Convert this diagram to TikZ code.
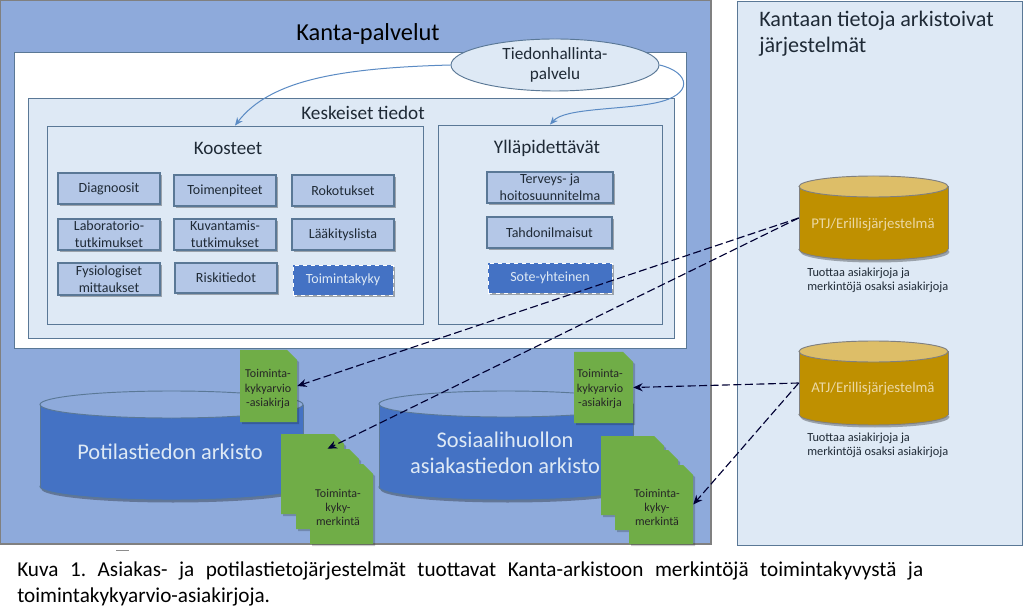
\documentclass[tikz,border=0pt]{standalone}
\usepackage{fontspec}
\setmainfont{Carlito}
\usetikzlibrary{shapes.geometric,shadows,arrows.meta}
\definecolor{panel}{HTML}{8EAADB}
\definecolor{light}{HTML}{DEE9F5}
\definecolor{boxblue}{HTML}{B4C7E7}
\definecolor{strong}{HTML}{4472C4}
\definecolor{edge}{HTML}{5A7896}
\definecolor{green}{HTML}{70AD47}
\definecolor{gold}{HTML}{BF9000}
\definecolor{goldtop}{HTML}{DDBE68}
\definecolor{txt}{HTML}{1F2A36}
\definecolor{curve}{HTML}{5B8BC4}
\newcommand\fs[1]{\fontsize{#1}{#1}\selectfont}
\tikzset{
 x=0.75pt,y=-0.75pt,
 softshadow/.style={general shadow={shadow xshift=1.5pt,shadow yshift=-1.5pt,fill=black,opacity=.3}},
 cellbox/.style={draw=edge,line width=.8pt,fill=boxblue,softshadow,inner sep=0pt,align=center,text=txt,font=\fs{10.5}},
 hotbox/.style={draw=white,dashed,line width=.6pt,fill=strong,softshadow,inner sep=0pt,align=center,text=light,font=\fs{10.5}},
 frame/.style={draw=edge,line width=.65pt,inner sep=0pt},
 doclabel/.style={align=center,text=black!85,inner sep=0pt,font=\fs{9}},
 cyllabel/.style={align=center,text=light,inner sep=0pt,font=\fs{16.8}},
 dep/.style={dash pattern=on 6pt off 2.6pt,draw=black!80!blue,line width=.85pt,-{Stealth[length=7pt,width=6pt]}},
 flow/.style={draw=curve,line width=.75pt,-{Stealth[length=6pt,width=5pt]}},
}
% rectangle placed by its corners
\newcommand\boxat[6]{%
 \pgfmathsetmacro\bw{(#4-#2)*0.75}\pgfmathsetmacro\bh{(#5-#3)*0.75}%
 \node[#6,minimum width=\bw pt,minimum height=\bh pt] (#1) at ({(#2+#4)/2},{(#3+#5)/2})}
% document with clipped corner
\newcommand\docshape[5]{%
 \fill[black,opacity=.2] (#2+2,#3+3) -- (#4-9,#3+3) -- (#4+2,#3+12) -- (#4+2,#5+2) -- (#2+2,#5+2) -- cycle;
 \fill[green] (#2,#3) -- (#4-10,#3) -- (#4,#3+10) -- (#4,#5) -- (#2,#5) -- cycle;
 \boxat{#1}{#2}{#3}{#4}{#5}{inner sep=0pt} {};}
% cylinder
\newcommand\cylshape[9]{%
 \pgfmathsetmacro\cx{(#2+#4)/2}\pgfmathsetmacro\rx{(#4-#2)/2}%
 \fill[black,opacity=.3] (\cx+1.5,#5-#6+2.5) ellipse [x radius=\rx,y radius=#6];
 \fill[#7] (\cx,#5-#6) ellipse [x radius=\rx,y radius=#6];
 \draw[#9,line width=.7pt] (\cx,#5-#6) ellipse [x radius=\rx,y radius=#6];
 \fill[#7] (#2,#3+#6) rectangle (#4,#5-#6);
 \draw[#9,line width=.7pt] (#2,#3+#6) -- (#2,#5-#6) (#4,#3+#6) -- (#4,#5-#6);
 \draw[#9,fill=#8,line width=.7pt] (\cx,#3+#6) ellipse [x radius=\rx,y radius=#6];
 \boxat{#1}{#2}{#3}{#4}{#5}{inner sep=0pt} {};}
\begin{document}
\begin{tikzpicture}
\frenchspacing
\useasboundingbox (0,0) rectangle (1024,609);
\fill[white] (0,0) rectangle (1024,609);
% panels
\boxat{kanta}{0}{0}{711}{544}{draw=black!50,line width=2pt,fill=panel} {};
\boxat{arkistoivat}{737}{1}{1022}{545}{draw=edge,line width=.7pt,fill=light} {};
\boxat{white}{14}{52}{686}{348}{frame,fill=white} {};
\boxat{keskeiset}{28}{98}{674}{338}{frame,fill=light} {};
\boxat{koosteet}{47}{126}{423}{324}{frame,fill=light} {};
\boxat{yllapid}{438}{125}{662}{324}{frame,fill=light} {};
\fill[black!45] (116,549.5) rectangle (129,551);
% titles
\node[font=\fs{18.3},inner sep=0pt] (t1) at (368,34) {Kanta-palvelut};
\node[font=\fs{16.6},inner sep=0pt,anchor=west,align=left,text=txt] (t2) at (759,34) {Kantaan tietoja arkistoivat\\[3pt]järjestelmät};
\node[font=\fs{14.4},inner sep=0pt,text=txt] (t3) at (363,113) {Keskeiset tiedot};
\node[font=\fs{14.3},inner sep=0pt,text=txt] (t4) at (228,148) {Koosteet};
\node[font=\fs{14.4},inner sep=0pt,text=txt] (t5) at (547,148) {Ylläpidettävät};
% Koosteet
\boxat{diag}{58}{173}{160}{204}{cellbox} {Diagnoosit};
\boxat{toim}{174}{175}{276}{206}{cellbox} {Toimenpiteet};
\boxat{roko}{292}{175}{394}{206}{cellbox} {Rokotukset};
\boxat{labo}{58}{219}{160}{250}{cellbox} {Laboratorio-\\[2.2pt]tutkimukset};
\boxat{kuva}{174}{219}{276}{250}{cellbox} {Kuvantamis-\\[2.2pt]tutkimukset};
\boxat{laak}{292}{219}{394}{250}{cellbox} {Lääkityslista};
\boxat{fysi}{58}{263}{160}{295}{cellbox} {Fysiologiset\\[2.2pt]mittaukset};
\boxat{riski}{175}{263}{277}{293}{cellbox} {Riskitiedot};
\boxat{kyky}{293}{265}{393}{295}{hotbox} {Toimintakyky};
% Yllapidettavat
\boxat{terv}{487}{172}{613}{203}{cellbox} {Terveys- ja\\[2.2pt]hoitosuunnitelma};
\boxat{tahd}{487}{217}{612}{248}{cellbox} {Tahdonilmaisut};
\boxat{sote}{488}{263}{612}{293}{hotbox} {Sote-yhteinen};
% ellipse and its curves
\node[ellipse,draw=edge,line width=.7pt,fill=light,minimum width=156pt,minimum height=39pt,inner sep=0pt,align=center,font=\fs{12.9},text=txt] (tieto) at (555,65) {Tiedonhallinta-\\[2pt]palvelu};
\draw[flow] (tieto.west) .. controls (340,68) and (270,80) .. (koosteet.north);
\draw[flow] (tieto.east) .. controls (690,72) and (695,95) .. (655,103) .. controls (620,110) and (565,108) .. (yllapid.north);
% archives
\cylshape{potilas}{40}{391}{303}{500}{13.5}{strong}{panel}{edge}
\cylshape{sosiaali}{379}{391}{633}{500}{13}{strong}{panel}{edge}
\node[cyllabel] (l1) at (170,452) {Potilastiedon arkisto};
\node[cyllabel] (l2) at (505,453) {Sosiaalihuollon\\[2.5pt]asiakastiedon arkisto};
% documents
\docshape{arvioa}{240}{350}{297}{422}
\docshape{merka}{281}{434}{344}{514}
\docshape{merkb}{296}{449}{359}{529}
\docshape{merkc}{310}{464}{373}{544}
\docshape{arviob}{574}{352}{633}{423}
\docshape{merkd}{601}{436}{664}{515}
\docshape{merke}{615}{450}{678}{530}
\docshape{merkf}{629}{465}{693}{544}
\node[doclabel] (d1) at (268,389) {Toiminta-\\[1.6pt]kykyarvio\\[1.6pt]-asiakirja};
\node[doclabel] (d2) at (338,507.5) {Toiminta-\\[1.6pt]kyky-\\[1.6pt]merkintä};
\node[doclabel] (d3) at (600,389) {Toiminta-\\[1.6pt]kykyarvio\\[1.6pt]-asiakirja};
\node[doclabel] (d4) at (657,507.5) {Toiminta-\\[1.6pt]kyky-\\[1.6pt]merkintä};
% source systems
\cylshape{ptj}{799}{176}{948}{260}{10.5}{gold}{goldtop}{black!50}
\cylshape{atj}{799}{341}{948}{425}{10.5}{gold}{goldtop}{black!50}
\node[font=\fs{11.1},text=goldtop!60!white,inner sep=0pt] (l3) at (873,224.5) {PTJ/Erillisjärjestelmä};
\node[font=\fs{11.1},text=goldtop!60!white,inner sep=0pt] (l4) at (873,388.5) {ATJ/Erillisjärjestelmä};
\node[font=\fs{9.25},text=txt,inner sep=0pt,anchor=west,align=left] (n1) at (807,280) {Tuottaa asiakirjoja ja\\[1.3pt]merkintöjä osaksi asiakirjoja};
\node[font=\fs{9.25},text=txt,inner sep=0pt,anchor=west,align=left] (n2) at (807,445) {Tuottaa asiakirjoja ja\\[1.3pt]merkintöjä osaksi asiakirjoja};
% connectors
\draw[dep] (ptj.west) -- (arvioa.east);
\draw[dep] (ptj.west) -- (merkb.north);
\draw[dep] (atj.west) -- (arviob.east);
\draw[dep] (atj.west) -- (merkf.east);
% caption
\node[anchor=north west,inner sep=0pt,align=left,font=\fs{15.9}] (cap) at (17,562) {\makebox[679.5pt][s]{Kuva 1. Asiakas- ja potilastietojärjestelmät tuottavat Kanta-arkistoon merkintöjä toimintakyvystä ja}\\[3pt]toimintakykyarvio-asiakirjoja.};
\end{tikzpicture}
\end{document}
